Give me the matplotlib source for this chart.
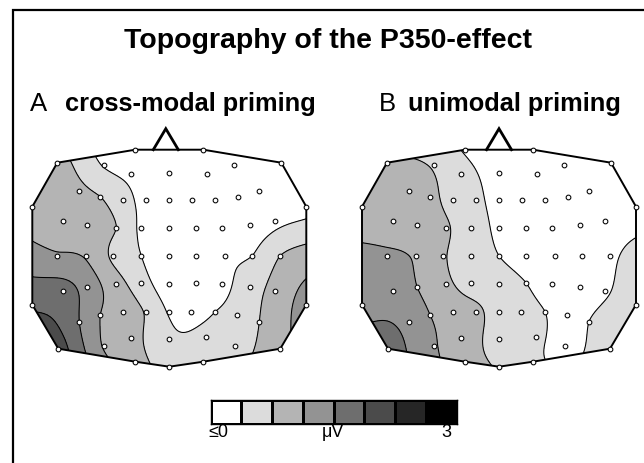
import numpy as np
import matplotlib
matplotlib.use("Agg")
import matplotlib.pyplot as plt
from matplotlib.patches import Polygon, Rectangle
from matplotlib.colors import ListedColormap, BoundaryNorm

plt.rcParams['font.family'] = ['Liberation Sans', 'DejaVu Sans']

# ---------------- data ----------------
title = "Topography of the P350-effect"
panel_letters = ["A", "B"]
panel_names = ["cross-modal priming", "unimodal priming"]

# electrode positions (head coordinates, arbitrary units; +y = front)
elec_x = [-34, 34, -112, 112, -137, 137, -137, 137, -111, 111, -34, 34, 0,
          -65, 65, -38, 0, 38, -90, 90, -69, -46, -23, 0, 23, 46, 69,
          -106, -82, -53, -28, 0, 27, 53, 81, 106,
          -112, -83, -56, -28, 0, 27, 56, 83, 111,
          -106, -82, -53, -28, 0, 27, 53, 81, 106,
          -90, -69, -46, -23, 0, 22, 46, 68, 90,
          -65, -38, 0, 37, 66]
elec_y = [106, 106, 93, 93, 49, 49, -49, -49, -93, -93, -106, -106, -111,
          91, 91, 82, 83, 82, 65, 65, 59, 56, 56, 56, 56, 56, 59,
          35, 31, 28, 28, 28, 28, 28, 31, 35,
          0, 0, 0, 0, 0, 0, 0, 0, 0,
          -35, -31, -28, -27, -28, -27, -28, -31, -35,
          -66, -59, -56, -56, -56, -56, -56, -59, -66,
          -90, -82, -83, -81, -90]
outline_order = [0, 1, 3, 5, 7, 9, 11, 12, 10, 8, 6, 4, 2]

# P350 effect amplitude (microvolts) at each electrode
values_cross = [-0.5, -0.5, 0.7, -0.5, 0.8, -0.2, 1.9, 1.2, 2.25, 0.85, 0.7, 0.25, 0.3,
                -0.05, -0.5, -0.15, -0.4, -0.5, 0.6, -0.5, 0.5, 0.2, -0.2, -0.4, -0.5, -0.5, -0.5,
                0.8, 0.7, 0.5, -0.1, -0.4, -0.5, -0.4, -0.3, -0.15,
                1.05, 0.95, 0.4, 0.0, -0.3, -0.3, -0.1, 0.0, 0.5,
                1.7, 1.3, 0.7, 0.2, -0.3, -0.4, -0.15, 0.3, 0.65,
                1.5, 1.0, 0.75, 0.45, -0.05, -0.2, 0.0, 0.2, 0.5,
                0.95, 0.65, 0.1, 0.15, 0.3]
values_uni = [-0.05, -0.5, 0.55, -0.5, 0.85, -0.2, 1.3, 0.3, 1.7, 0.3, 0.7, 0.1, 0.45,
              0.45, -0.5, 0.2, -0.2, -0.4, 0.75, -0.5, 0.6, 0.35, 0.1, -0.15, -0.3, -0.4, -0.5,
              0.85, 0.75, 0.55, 0.25, -0.1, -0.3, -0.4, -0.4, -0.2,
              1.05, 0.95, 0.55, 0.25, 0.0, -0.2, -0.3, -0.2, -0.05,
              1.3, 1.0, 0.6, 0.3, 0.2, 0.0, -0.2, -0.15, -0.05,
              1.35, 1.0, 0.75, 0.6, 0.3, 0.15, 0.0, -0.1, 0.0,
              1.05, 0.75, 0.3, 0.1, -0.15]

levels = [-10, 0, 0.5, 1.0, 1.5, 2.0, 2.5, 3.0, 10]
level_colors = ['#ffffff', '#dcdcdc', '#b4b4b4', '#939393', '#6e6e6e', '#4b4b4b', '#262626', '#000000']
cbar_labels = ["\u22640", "\u03bcV", "3"]

# ---------------- helpers ----------------
W, H = 644, 464


def fx(px):
    return px / W


def fy(py):
    return 1 - py / H


def tps(xe, ye, ve, gx, gy):
    pts = np.column_stack([xe, ye]) / 100.0
    n = len(pts)
    d = np.linalg.norm(pts[:, None] - pts[None], axis=2)
    K = np.where(d > 0, d ** 2 * np.log(np.where(d > 0, d, 1)), 0)
    P = np.column_stack([np.ones(n), pts])
    A = np.zeros((n + 3, n + 3))
    A[:n, :n] = K
    A[:n, n:] = P
    A[n:, :n] = P.T
    b = np.concatenate([ve, np.zeros(3)])
    w = np.linalg.solve(A, b)
    G = np.column_stack([gx.ravel(), gy.ravel()]) / 100.0
    dg = np.linalg.norm(G[:, None] - pts[None], axis=2)
    Kg = np.where(dg > 0, dg ** 2 * np.log(np.where(dg > 0, dg, 1)), 0)
    out = Kg @ w[:n] + w[n] + G @ w[n + 1:]
    return out.reshape(gx.shape)


fig = plt.figure(figsize=(W / 100, H / 100), dpi=100)

# frame (only left and top edges fall inside the picture)
fig.patches.append(Rectangle((fx(13), fy(700)), (700 - 13) / W, (700 - 11) / H,
                             transform=fig.transFigure, fill=False, lw=1.6, ec='black'))

fig.text(fx(328), fy(48), title, ha='center', va='baseline', fontsize=20.5, fontweight='bold')

cmap = ListedColormap(level_colors)
norm = BoundaryNorm(levels, cmap.N)

ex = np.array(elec_x, float)
ey = np.array(elec_y, float)

centers = [169.3, 499.0]
nose_dx = [-3.5, 0.0]
letter_x = [30, 379]
name_x = [65, 408]
half_w, half_h = 150, 135
cy = 256.7

gxv = np.linspace(-140, 140, 240)
gyv = np.linspace(-115, 110, 200)
GX, GY = np.meshgrid(gxv, gyv)

for i, vals in enumerate([values_cross, values_uni]):
    cx = centers[i]
    ax = fig.add_axes([fx(cx - half_w), fy(cy + half_h), 2 * half_w / W, 2 * half_h / H])
    ax.set_xlim(-half_w, half_w)
    ax.set_ylim(-half_h, half_h)
    ax.axis('off')

    Z = tps(ex, ey, np.array(vals, float), GX, GY)
    poly_xy = np.column_stack([ex[outline_order], ey[outline_order]])
    clip = Polygon(poly_xy, closed=True, transform=ax.transData, fc='none', ec='none')
    ax.add_patch(clip)
    cf = ax.contourf(GX, GY, Z, levels=levels, cmap=cmap, norm=norm)
    cf.set_clip_path(clip)
    cl = ax.contour(GX, GY, Z, levels=levels[1:-1], colors='black', linewidths=0.75)
    cl.set_clip_path(clip)
    ax.add_patch(Polygon(poly_xy, closed=True, fill=False, ec='black', lw=1.4, zorder=5))
    # nose
    ny = ey[0]
    ax.plot([nose_dx[i] - 12.5, nose_dx[i], nose_dx[i] + 12.5], [ny, ny + 21, ny],
            color='black', lw=2.0, zorder=5, solid_joinstyle='miter', clip_on=False)
    ax.plot(ex, ey, 'o', ms=3.4, mfc='white', mec='black', mew=0.75, zorder=6, clip_on=False)

    fig.text(fx(letter_x[i]), fy(111), panel_letters[i], ha='left', va='baseline', fontsize=18.5)
    fig.text(fx(name_x[i]), fy(111), panel_names[i], ha='left', va='baseline', fontsize=18.3,
             fontweight='bold')

# colour key
cax = fig.add_axes([fx(210.7), fy(425), (456.7 - 210.7) / W, (425 - 400.7) / H])
cax.pcolormesh(np.arange(9), [0, 1], np.arange(8).reshape(1, 8), cmap=cmap,
               edgecolors='black', linewidth=0.8)
cax.set_xlim(0, 8)
cax.set_ylim(0, 1)
cax.set_xticks([])
cax.set_yticks([])
for s in cax.spines.values():
    s.set_linewidth(1.0)
fig.text(fx(208), fy(437), cbar_labels[0], ha='left', va='baseline', fontsize=13)
fig.text(fx(333), fy(437), cbar_labels[1], ha='center', va='baseline', fontsize=13)
fig.text(fx(451), fy(437), cbar_labels[2], ha='right', va='baseline', fontsize=13)

fig.savefig("out.png", dpi=100)
